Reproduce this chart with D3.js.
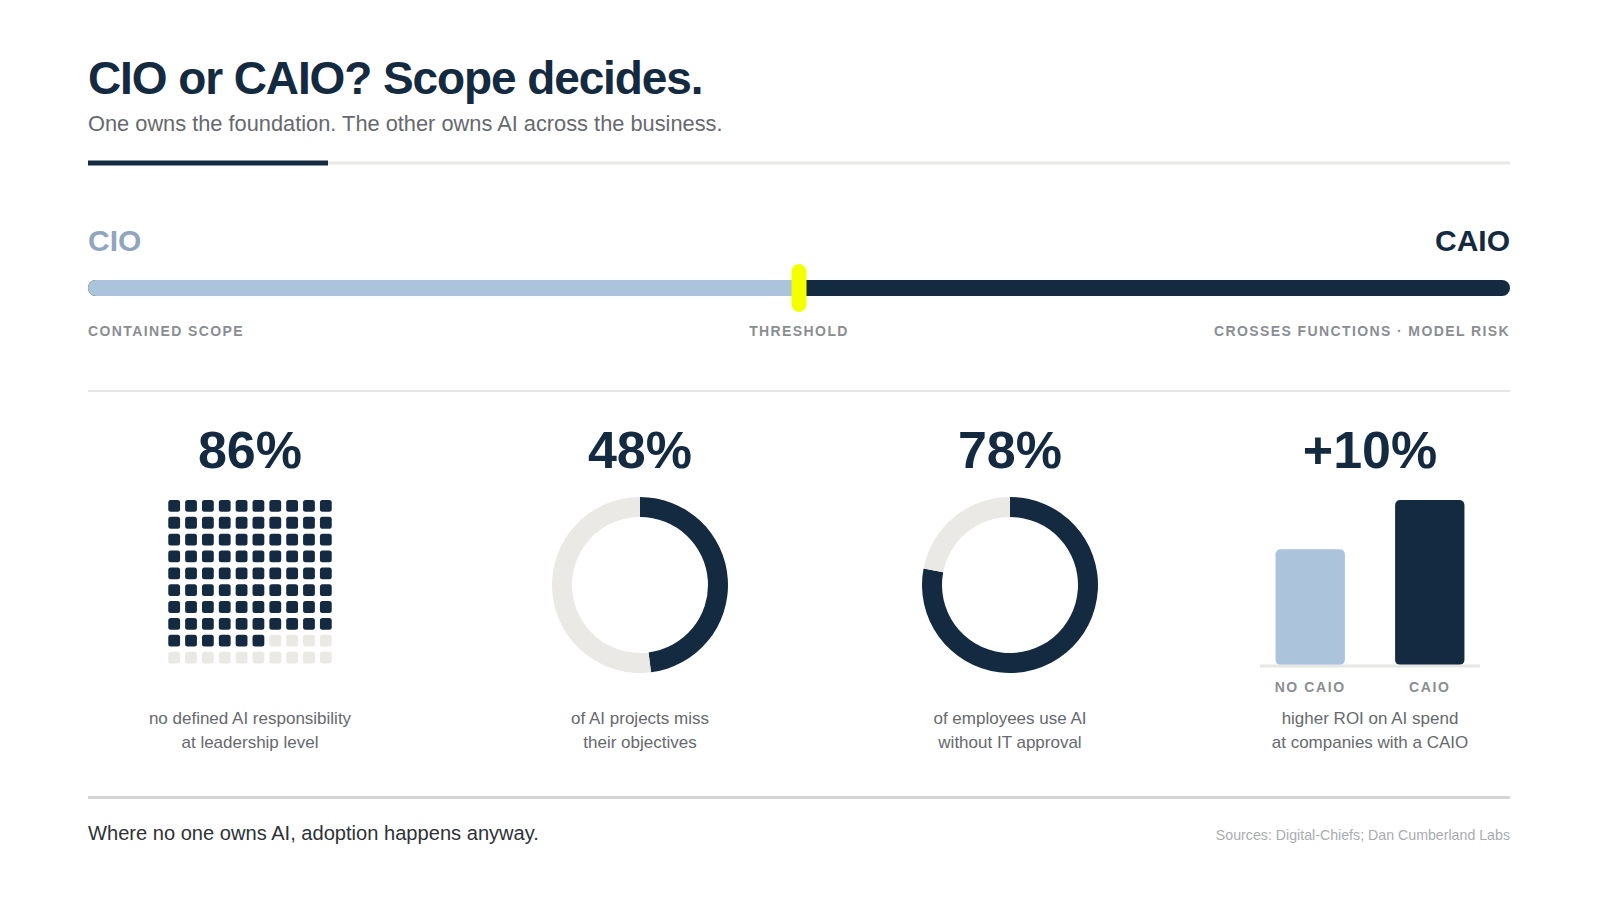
<!DOCTYPE html>
<html>
<head>
<meta charset="utf-8">
<script src="https://cdn.jsdelivr.net/npm/d3@7/dist/d3.min.js"></script>
<style>
  html, body { margin: 0; padding: 0; background: #fff; }
  svg { display: block; font-family: "Liberation Sans", Arial, sans-serif; }
</style>
</head>
<body>
<div id="chart"></div>
<script>
// ---- data ----
const scaleEnds = ["CIO", "CAIO"];
const scaleLabels = ["CONTAINED SCOPE", "THRESHOLD", "CROSSES FUNCTIONS · MODEL RISK"];
const thresholdShare = 0.5;

const statValues = ["86%", "48%", "78%", "+10%"];
const statCaptions = [
    ["no defined AI responsibility", "at leadership level"],
    ["of AI projects miss", "their objectives"],
    ["of employees use AI", "without IT approval"],
    ["higher ROI on AI spend", "at companies with a CAIO"]
];
const wafflePercent = 86;
const donutPercents = [48, 78];
const roiGroups = ["NO CAIO", "CAIO"];
const roiIndex = [100, 110];

// ---- layout ----
const W = 1600, H = 900;
const left = 88, right = 1510;
const navy = "#142a40", lightBlue = "#abc3db", track = "#eae9e5", grey = "#8a8e92";
const colX = [250, 640, 1010, 1370];

const svg = d3.select("#chart").append("svg")
    .attr("width", W)
    .attr("height", H);

// title block
svg.append("text")
    .attr("x", left).attr("y", 94)
    .attr("font-size", 46).attr("font-weight", 700)
    .attr("letter-spacing", "-1.1px")
    .attr("fill", navy)
    .text("CIO or CAIO? Scope decides.");

svg.append("text")
    .attr("x", left).attr("y", 131)
    .attr("font-size", 21.8)
    .attr("fill", "#66696d")
    .text("One owns the foundation. The other owns AI across the business.");

svg.append("rect")
    .attr("x", 328).attr("y", 161.5).attr("width", right - 328).attr("height", 3)
    .attr("fill", "#e8e8e6");
svg.append("rect")
    .attr("x", left).attr("y", 160.5).attr("width", 240).attr("height", 5)
    .attr("fill", navy);

// ---- scope slider ----
const x = d3.scaleLinear().domain([0, 1]).range([left, right]);

svg.append("text")
    .attr("x", x(0)).attr("y", 251)
    .attr("font-size", 30).attr("font-weight", 700)
    .attr("fill", "#90a6be")
    .text(scaleEnds[0]);
svg.append("text")
    .attr("x", x(1)).attr("y", 251)
    .attr("text-anchor", "end")
    .attr("font-size", 30).attr("font-weight", 700)
    .attr("fill", navy)
    .text(scaleEnds[1]);

const barY = 280, barH = 16;
svg.append("rect")
    .attr("x", x(0)).attr("y", barY)
    .attr("width", x(1) - x(0)).attr("height", barH)
    .attr("rx", barH / 2)
    .attr("fill", navy);
svg.append("path")
    .attr("d", () => {
        const r = barH / 2, x0 = x(0), x1 = x(thresholdShare);
        return `M${x0 + r},${barY} H${x1} V${barY + barH} H${x0 + r} A${r},${r} 0 0 1 ${x0 + r},${barY} Z`;
    })
    .attr("fill", lightBlue);

svg.append("rect")
    .attr("x", x(thresholdShare) - 7.5).attr("y", 264)
    .attr("width", 15).attr("height", 48)
    .attr("rx", 7.5)
    .attr("fill", "#f4ff00");

const labelAnchors = ["start", "middle", "end"];
const labelPos = [0, thresholdShare, 1];
svg.selectAll(".scale-label")
    .data(scaleLabels)
    .enter()
    .append("text")
    .attr("class", "scale-label")
    .attr("x", (d, i) => x(labelPos[i]))
    .attr("y", 336)
    .attr("text-anchor", (d, i) => labelAnchors[i])
    .attr("font-size", 14).attr("font-weight", 700)
    .attr("letter-spacing", "1.4px")
    .attr("fill", grey)
    .text(d => d);

svg.append("rect")
    .attr("x", left).attr("y", 390).attr("width", right - left).attr("height", 2)
    .attr("fill", "#e6e6e4");

// ---- stat columns ----
svg.selectAll(".stat")
    .data(statValues)
    .enter()
    .append("text")
    .attr("class", "stat")
    .attr("x", (d, i) => colX[i])
    .attr("y", 468)
    .attr("text-anchor", "middle")
    .attr("font-size", 52).attr("font-weight", 700)
    .attr("fill", navy)
    .text(d => d);

statCaptions.forEach((lines, i) => {
    svg.append("text")
        .attr("x", colX[i]).attr("y", 724)
        .attr("text-anchor", "middle")
        .attr("font-size", 17)
        .attr("fill", "#66696d")
        .selectAll("tspan")
        .data(lines)
        .enter()
        .append("tspan")
        .attr("x", colX[i])
        .attr("dy", (d, j) => j === 0 ? 0 : 23.5)
        .text(d => d);
});

// waffle 10x10
const cells = d3.range(100).map(i => ({ row: Math.floor(i / 10), col: i % 10, on: i < wafflePercent }));
const pitch = 16.85, cell = 11.8;
const gx = d3.scaleLinear().domain([0, 9]).range([colX[0] - 4.5 * pitch, colX[0] + 4.5 * pitch]);
const gy = d3.scaleLinear().domain([0, 9]).range([500, 500 + 9 * pitch]);
svg.append("g")
    .selectAll("rect")
    .data(cells)
    .enter()
    .append("rect")
    .attr("x", d => gx(d.col) - cell / 2)
    .attr("y", d => gy(d.row))
    .attr("width", cell).attr("height", cell)
    .attr("rx", 2.5)
    .attr("fill", d => d.on ? navy : track);

// donuts
const arc = d3.arc().innerRadius(68).outerRadius(88);
donutPercents.forEach((p, i) => {
    const g = svg.append("g").attr("transform", `translate(${colX[i + 1]},585)`);
    const pie = d3.pie().sort(null).value(d => d)([p, 100 - p]);
    g.selectAll("path")
        .data(pie)
        .enter()
        .append("path")
        .attr("d", arc)
        .attr("fill", (d, j) => j === 0 ? navy : track);
});

// ROI bars
const bx = d3.scaleBand().domain(roiGroups).range([1260, 1480]).paddingInner(0.42).paddingOuter(0.13);
const by = d3.scaleLinear().domain([76.5, 110]).range([665, 500]);
svg.append("g")
    .selectAll("rect")
    .data(roiGroups)
    .enter()
    .append("rect")
    .attr("x", d => bx(d))
    .attr("y", (d, i) => by(roiIndex[i]))
    .attr("width", bx.bandwidth())
    .attr("height", (d, i) => by.range()[0] - by(roiIndex[i]))
    .attr("rx", 5)
    .attr("fill", (d, i) => i === 0 ? lightBlue : navy);

svg.append("rect")
    .attr("x", 1260).attr("y", 664.5).attr("width", 220).attr("height", 3)
    .attr("fill", "#e6e6e4");

svg.selectAll(".roi-label")
    .data(roiGroups)
    .enter()
    .append("text")
    .attr("class", "roi-label")
    .attr("x", d => bx(d) + bx.bandwidth() / 2)
    .attr("y", 692)
    .attr("text-anchor", "middle")
    .attr("font-size", 14).attr("font-weight", 700)
    .attr("letter-spacing", "1.6px")
    .attr("fill", grey)
    .text(d => d);

// ---- footer ----
svg.append("rect")
    .attr("x", left).attr("y", 796).attr("width", right - left).attr("height", 3)
    .attr("fill", "#d4d4d4");

svg.append("text")
    .attr("x", left).attr("y", 840)
    .attr("font-size", 20.1)
    .attr("fill", "#2e3236")
    .text("Where no one owns AI, adoption happens anyway.");

svg.append("text")
    .attr("x", right).attr("y", 840)
    .attr("text-anchor", "end")
    .attr("font-size", 14.2)
    .attr("fill", "#a9acaf")
    .text("Sources: Digital-Chiefs; Dan Cumberland Labs");
</script>
</body>
</html>
